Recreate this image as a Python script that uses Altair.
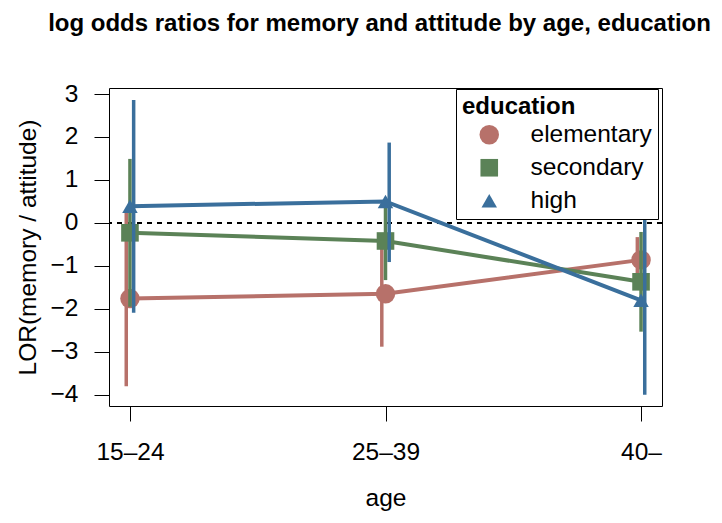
import altair as alt
import pandas as pd

# ---- data ----
ages = ["15–24", "25–39", "40–"]
education = ["elementary", "secondary", "high"]
lor_elementary = [-1.76, -1.65, -0.86]
lo_elementary = [-3.80, -2.88, -1.39]
hi_elementary = [0.29, -0.42, -0.33]
lor_secondary = [-0.23, -0.42, -1.37]
lo_secondary = [-1.95, -1.33, -2.53]
hi_secondary = [1.49, 0.49, -0.21]
lor_high = [0.39, 0.50, -1.80]
lo_high = [-2.09, -0.91, -4.00]
hi_high = [2.86, 1.87, 0.42]
y_ticks = [-4, -3, -2, -1, 0, 1, 2, 3]

colors = ["#b7716a", "#5b8257", "#3a6f9c"]
shapes = ["circle", "square", "triangle-up"]
sizes = [380, 240, 560]
dodge_px = [-3.7, 0, 3.7]

rows = []
for edu, est, lo, hi in [
    ("elementary", lor_elementary, lo_elementary, hi_elementary),
    ("secondary", lor_secondary, lo_secondary, hi_secondary),
    ("high", lor_high, lo_high, hi_high),
]:
    for i, a in enumerate(ages):
        rows.append({"age": a, "pos": i, "education": edu,
                     "lor": est[i], "lower": lo[i], "upper": hi[i]})
df = pd.DataFrame(rows)

FONT = "Liberation Sans"
FS = 24.5
label_expr = "[" + ",".join('"%s"' % a for a in ages) + "][datum.value]"

x_enc = alt.X("pos:Q",
              scale=alt.Scale(domain=[-0.082, 2.082], nice=False, zero=False),
              axis=alt.Axis(values=[0, 1, 2], labelExpr=label_expr, title="age",
                            titleX=276.5, titleY=92, titleBaseline="middle"))
y_enc = alt.Y("lor:Q",
              scale=alt.Scale(domain=[-4.26, 3.14], nice=False, zero=False),
              axis=alt.Axis(values=y_ticks,
                            labelExpr="replace(datum.label, '-', '−')",
                            title="LOR(memory / attitude)",
                            titleX=-81, titleY=159, titleBaseline="middle",
                            titleAngle=-90))
color_enc = alt.Color("education:N", scale=alt.Scale(domain=education, range=colors),
                      legend=alt.Legend(title="education"))
shape_enc = alt.Shape("education:N", scale=alt.Scale(domain=education, range=shapes),
                      legend=alt.Legend(title="education"))
size_enc = alt.Size("education:N", scale=alt.Scale(domain=education, range=sizes),
                    legend=alt.Legend(title="education"))

base = alt.Chart(df)

zero_line = base.mark_rule(color="black", strokeDash=[5, 5], strokeWidth=1).encode(
    y=alt.datum(0))

layers = [zero_line]
for i, edu in enumerate(education):
    sub = base.transform_filter(alt.datum.education == edu)
    bars = sub.mark_rule(strokeWidth=3.5, xOffset=dodge_px[i]).encode(
        x=x_enc, y=alt.Y("lower:Q"), y2="upper:Q", color=color_enc)
    line = sub.mark_line(strokeWidth=4).encode(x=x_enc, y=y_enc, color=color_enc)
    pts = sub.mark_point(filled=True, opacity=1).encode(
        x=x_enc, y=y_enc, color=color_enc, shape=shape_enc, size=size_enc)
    layers += [bars, line, pts]

chart = alt.layer(*layers).properties(
    width=553, height=318,
    autosize=alt.AutoSizeParams(type="none"),
    padding={"left": 101, "top": 80, "right": 52, "bottom": 109},
    title=alt.Title("log odds ratios for memory and attitude by age, education",
                    font=FONT, fontSize=24, fontWeight="bold", color="black",
                    anchor="middle", dx=-6, offset=45),
).configure_view(
    stroke="black", strokeWidth=1
).configure_axis(
    domain=False, grid=False, tickSize=15, tickColor="black", tickWidth=1,
    labelFont=FONT, labelFontSize=FS, labelColor="black",
    titleFont=FONT, titleFontSize=FS, titleFontWeight="normal", titleColor="black",
).configure_axisY(
    labelPadding=16
).configure_axisX(
    labelPadding=19
).configure_legend(
    orient="none", legendX=347, legendY=1,
    strokeColor="black", strokeWidth=1, fillColor="white",
    padding=6, symbolOffset=15, labelOffset=29, rowPadding=8,
    titleFont=FONT, titleFontSize=24, titleFontWeight="bold", titleColor="black",
    labelFont=FONT, labelFontSize=FS, labelColor="black",
    symbolStrokeWidth=0, titlePadding=3.5,
)

chart.save("out.html", embed_options={"renderer": "svg", "actions": False})
